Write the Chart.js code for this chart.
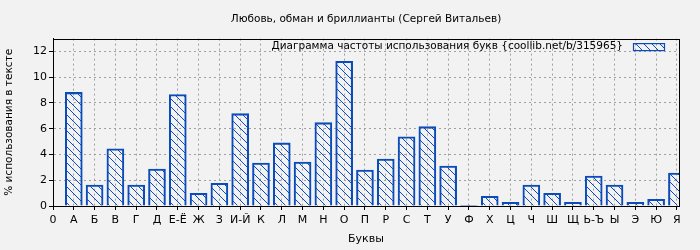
<!DOCTYPE html>
<html>
<head>
<meta charset="utf-8">
<script src="https://cdn.jsdelivr.net/npm/chart.js@4/dist/chart.umd.min.js"></script>
<style>
  html, body { margin: 0; padding: 0; background: #f2f2f2; }
  canvas { display: block; }
</style>
</head>
<body>
<canvas id="c" width="700" height="250"></canvas>
<script>
// ---- data ----
const tickLabels = ['0','А','Б','В','Г','Д','Е-Ё','Ж','З','И-Й','К','Л','М','Н','О','П','Р','С','Т','У','Ф','Х','Ц','Ч','Ш','Щ','Ь-Ъ','Ы','Э','Ю','Я'];
const letterPositions = [1,2,3,4,5,6,7,8,9,10,11,12,13,14,15,16,17,18,19,20,21,22,23,24,25,26,27,28,29,30];
const frequencies = [8.82,1.62,4.44,1.62,2.87,8.66,0.99,1.77,7.17,3.34,4.90,3.42,6.47,11.24,2.79,3.65,5.37,6.16,3.10,0.05,0.76,0.29,1.62,0.99,0.29,2.32,1.62,0.29,0.52,2.56];
const yTicks = [0,2,4,6,8,10,12];
const chartTitle = 'Любовь, обман и бриллианты (Сергей Витальев)';
const seriesName = 'Диаграмма частоты использования букв {coollib.net/b/315965}';
const xTitle = 'Буквы';
const yTitle = '% использования в тексте';

const BLUE = '#0b4cba';
const FONT = 'DejaVu Sans';

const canvas = document.getElementById('c');
const ctx0 = canvas.getContext('2d');
function makePattern(color) {
  const s = 8;
  const c = document.createElement('canvas');
  c.width = s; c.height = s;
  const g = c.getContext('2d');
  g.strokeStyle = color;
  g.lineWidth = 1;
  g.beginPath();
  g.moveTo(0, 0); g.lineTo(s, s);
  g.moveTo(-1, s - 1); g.lineTo(1, s + 1);
  g.moveTo(s - 1, -1); g.lineTo(s + 1, 1);
  g.stroke();
  return ctx0.createPattern(c, 'repeat');
}
const hatch = makePattern(BLUE);

const framePlugin = {
  id: 'frame',
  afterDatasetsDraw(chart) {
    const { ctx, chartArea: a } = chart;
    ctx.save();
    ctx.strokeStyle = '#000';
    ctx.lineWidth = 1;
    ctx.setLineDash([]);
    ctx.strokeRect(Math.round(a.left) + 0.5, Math.round(a.top) + 0.5,
                   Math.round(a.right - a.left), Math.round(a.bottom - a.top));
    ctx.restore();
  },
  afterDraw(chart) {
    const { ctx, chartArea: a } = chart;
    const ds = chart.data.datasets[0];
    ctx.save();
    ctx.font = '10.5px "' + FONT + '"';
    ctx.fillStyle = '#000';
    ctx.textAlign = 'right';
    ctx.textBaseline = 'middle';
    const boxR = a.right - 15, boxW = 31, boxH = 7, cy = a.top + 8;
    ctx.fillText(ds.label, boxR - boxW - 10, cy);
    ctx.fillStyle = hatch;
    ctx.fillRect(boxR - boxW, cy - boxH / 2, boxW, boxH);
    ctx.strokeStyle = BLUE;
    ctx.lineWidth = 1.2;
    ctx.strokeRect(boxR - boxW + 0.5, cy - boxH / 2 + 0.5, boxW, boxH);
    ctx.restore();
  }
};

const gridOpts = {
  color: '#a0a0a0',
  lineWidth: 1,
  offset: false,
  tickColor: '#000',
  tickLength: 4,
  tickBorderDash: []
};

new Chart(canvas, {
  type: 'bar',
  data: {
    datasets: [{
      label: seriesName,
      data: letterPositions.map((x, i) => ({ x: x, y: frequencies[i] })),
      backgroundColor: hatch,
      borderColor: BLUE,
      borderWidth: 1.4,
      barThickness: 17
    }]
  },
  plugins: [framePlugin],
  options: {
    responsive: false,
    animation: false,
    layout: { padding: { left: 0, top: 0, right: 21, bottom: 0 } },
    plugins: {
      legend: { display: false },
      tooltip: { enabled: false },
      title: {
        display: true,
        text: chartTitle,
        fullSize: false,
        color: '#000',
        font: { family: FONT, size: 10.5, weight: 'normal' },
        padding: { top: 13, bottom: 13 }
      }
    },
    scales: {
      x: {
        type: 'linear',
        offset: false,
        min: 0,
        max: 30.1,
        afterBuildTicks: (axis) => { axis.ticks = tickLabels.map((_, i) => ({ value: i })); },
        afterFit: (s) => { s.height = 44; },
        ticks: {
          autoSkip: false,
          maxRotation: 0,
          color: '#000',
          padding: 4,
          font: { family: FONT, size: 11 },
          callback: (v) => tickLabels[v]
        },
        grid: gridOpts,
        border: { display: true, color: '#000', width: 1, dash: [2, 3] },
        title: {
          display: true,
          text: xTitle,
          color: '#000',
          font: { family: FONT, size: 11 },
          padding: { top: 0, bottom: 4 }
        }
      },
      y: {
        min: 0,
        max: 13,
        afterBuildTicks: (axis) => { axis.ticks = yTicks.map(v => ({ value: v })); },
        afterFit: (s) => { s.width = 53; },
        ticks: {
          color: '#000',
          padding: 2,
          font: { family: FONT, size: 11 }
        },
        grid: gridOpts,
        border: { display: true, color: '#000', width: 1, dash: [2, 3] },
        title: {
          display: true,
          text: yTitle,
          color: '#000',
          font: { family: FONT, size: 10.5 },
          padding: { top: 3, bottom: 0 }
        }
      }
    }
  }
});
</script>
</body>
</html>
